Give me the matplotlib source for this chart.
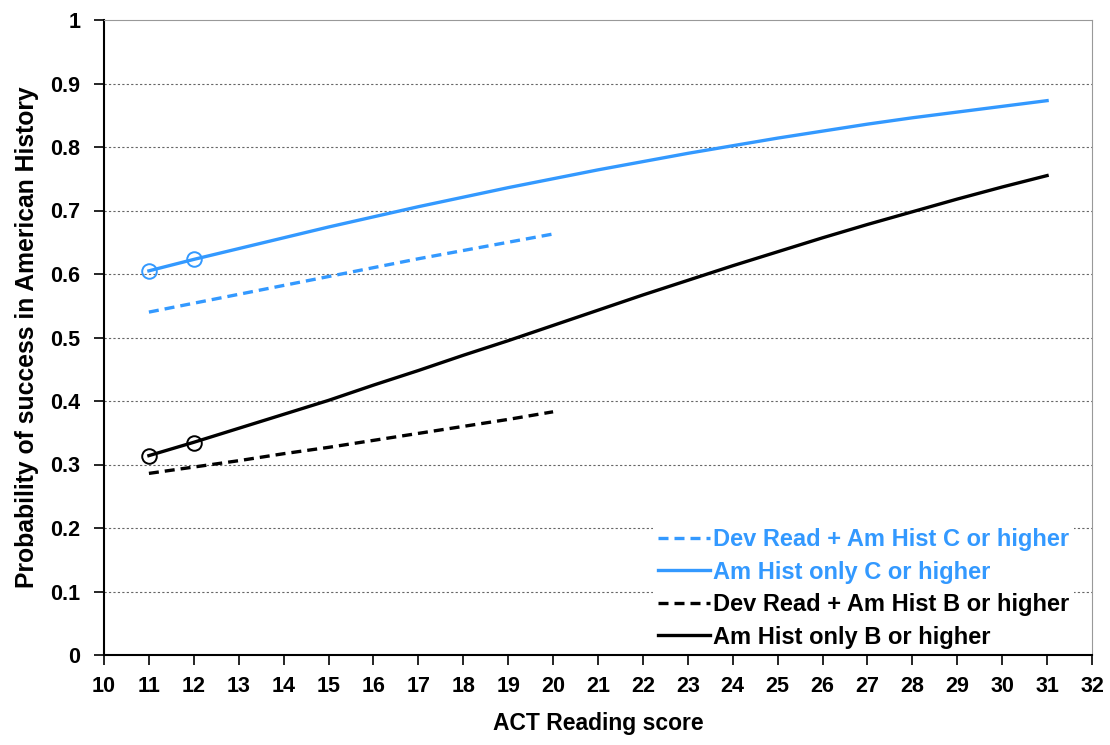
import matplotlib
matplotlib.use("Agg")
import matplotlib.pyplot as plt

plt.rcParams['font.family'] = ['Liberation Sans', 'DejaVu Sans']

# ACT Reading scores
x_full = [11, 12, 13, 14, 15, 16, 17, 18, 19, 20, 21, 22, 23, 24, 25, 26, 27, 28, 29, 30, 31]
x_dev = [11, 12, 13, 14, 15, 16, 17, 18, 19, 20]

# Probability of success
only_c = [0.605, 0.623, 0.640, 0.657, 0.674, 0.690, 0.706, 0.721, 0.736, 0.750, 0.764,
          0.777, 0.790, 0.802, 0.814, 0.825, 0.836, 0.846, 0.855, 0.864, 0.873]
only_b = [0.314, 0.335, 0.357, 0.379, 0.401, 0.425, 0.448, 0.472, 0.495, 0.519, 0.543,
          0.567, 0.590, 0.613, 0.635, 0.657, 0.678, 0.698, 0.718, 0.737, 0.755]
dev_c = [0.540, 0.554, 0.568, 0.582, 0.596, 0.610, 0.624, 0.637, 0.650, 0.663]
dev_b = [0.286, 0.296, 0.306, 0.317, 0.327, 0.338, 0.349, 0.360, 0.371, 0.383]

# circled points (observed scores)
marker_x = [11, 12]
marker_c = [0.605, 0.624]
marker_b = [0.314, 0.334]

labels = ["Dev Read + Am Hist C or higher", "Am Hist only C or higher",
          "Dev Read + Am Hist B or higher", "Am Hist only B or higher"]
x_ticks = list(range(10, 33))
y_ticks = [0, 0.1, 0.2, 0.3, 0.4, 0.5, 0.6, 0.7, 0.8, 0.9, 1]
y_ticklabels = ["0", "0.1", "0.2", "0.3", "0.4", "0.5", "0.6", "0.7", "0.8", "0.9", "1"]

blue = "#3399FF"
black = "#000000"

fig = plt.figure(figsize=(11.1, 7.45), dpi=100)
ax = fig.add_axes([104/1110, 1 - 655/745, 988/1110, 635/745])

for yv in y_ticks[1:-1]:
    ax.axhline(yv, color="#666666", linestyle=(0, (2, 2)), linewidth=0.8, zorder=1)

dash = (0, (3.0, 1.8))
l1, = ax.plot(x_dev, dev_c, color=blue, linestyle=dash, linewidth=2.4, zorder=3)
l2, = ax.plot(x_full, only_c, color=blue, linestyle='-', linewidth=2.4, zorder=3)
l3, = ax.plot(x_dev, dev_b, color=black, linestyle=dash, linewidth=2.4, zorder=3)
l4, = ax.plot(x_full, only_b, color=black, linestyle='-', linewidth=2.4, zorder=3)

ax.plot(marker_x, marker_c, linestyle='none', marker='o', markersize=10.5,
        markerfacecolor='none', markeredgecolor=blue, markeredgewidth=1.4, zorder=4)
ax.plot(marker_x, marker_b, linestyle='none', marker='o', markersize=10.5,
        markerfacecolor='none', markeredgecolor=black, markeredgewidth=1.4, zorder=4)

ax.set_xlim(10, 32)
ax.set_ylim(0, 1)
ax.set_xticks(x_ticks)
ax.set_yticks(y_ticks)
ax.set_yticklabels(y_ticklabels)
ax.tick_params(axis='both', direction='out', length=7, width=1.2, labelsize=15.5)
ax.tick_params(axis='y', pad=10)
ax.tick_params(axis='x', pad=8)
for lab in ax.get_xticklabels() + ax.get_yticklabels():
    lab.set_fontweight('bold')

ax.spines['left'].set_color('black')
ax.spines['left'].set_linewidth(1.5)
ax.spines['bottom'].set_color('black')
ax.spines['bottom'].set_linewidth(1.5)
ax.spines['top'].set_color('#999999')
ax.spines['right'].set_color('#999999')

ax.set_xlabel("ACT Reading score", fontsize=16.5, fontweight='bold', labelpad=11)
ax.set_ylabel("Probability of success in American History", fontsize=17.8,
              fontweight='bold', labelpad=8)

leg = ax.legend([l1, l2, l3, l4], labels, loc='lower right', bbox_to_anchor=(0.994, -0.016),
                frameon=True, handlelength=2.2, handletextpad=0.15, borderpad=0.2,
                labelspacing=0.4, prop={'weight': 'bold', 'size': 17})
leg.get_frame().set_edgecolor('none')
leg.get_frame().set_facecolor('white')
leg.get_frame().set_alpha(1)
for txt, col in zip(leg.get_texts(), [blue, blue, black, black]):
    txt.set_color(col)

fig.savefig("out.png", dpi=100)
